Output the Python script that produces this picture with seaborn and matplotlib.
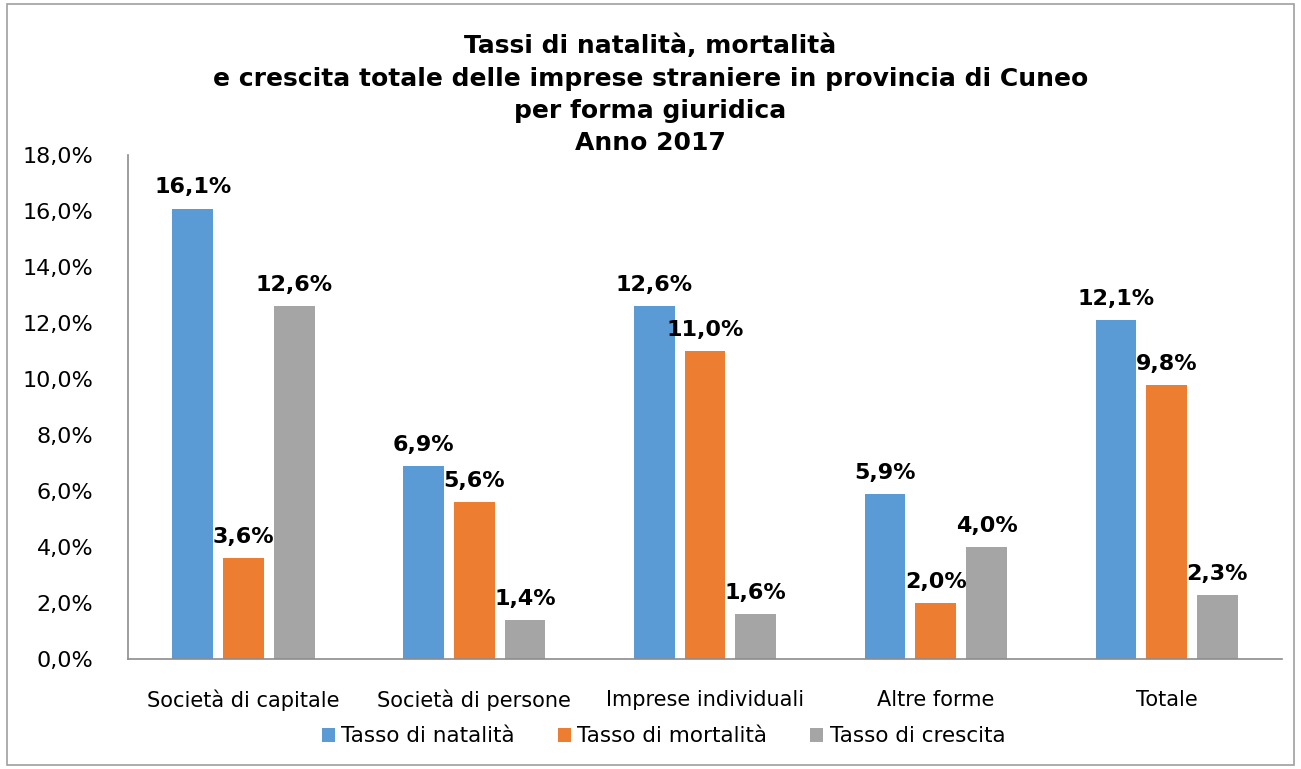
import matplotlib
matplotlib.use("Agg")
import matplotlib.pyplot as plt
import seaborn as sns
import pandas as pd
from matplotlib.patches import Rectangle

categories = ["Società di capitale", "Società di persone", "Imprese individuali", "Altre forme", "Totale"]
natalita = [16.1, 6.9, 12.6, 5.9, 12.1]
mortalita = [3.6, 5.6, 11.0, 2.0, 9.8]
crescita = [12.6, 1.4, 1.6, 4.0, 2.3]
series_names = ["Tasso di natalità", "Tasso di mortalità", "Tasso di crescita"]
colors = ["#5B9BD5", "#ED7D31", "#A5A5A5"]
yticks = [0, 2, 4, 6, 8, 10, 12, 14, 16, 18]

rows = []
for name, vals in zip(series_names, [natalita, mortalita, crescita]):
    for c, v in zip(categories, vals):
        rows.append({"Categoria": c, "Serie": name, "Valore": v})
df = pd.DataFrame(rows)

sns.set_theme(style="white")
plt.rcParams["font.family"] = ["DejaVu Sans"]
plt.rcParams["text.color"] = "black"
plt.rcParams["xtick.color"] = "black"
plt.rcParams["ytick.color"] = "black"

fig = plt.figure(figsize=(13.01, 7.69), dpi=100)
ax = fig.add_axes([0.0984, 0.143, 0.887, 0.655])

sns.barplot(data=df, x="Categoria", y="Valore", hue="Serie", order=categories,
            hue_order=series_names, palette=colors, width=0.66, gap=0.2,
            saturation=1, ax=ax, errorbar=None, linewidth=0)

for cont in ax.containers:
    ax.bar_label(cont, labels=[f"{b.get_height():.1f}".replace(".", ",") + "%" for b in cont],
                 padding=8, fontsize=16, fontweight="bold", color="black")

ax.set_ylim(0, 18)
ax.set_yticks(yticks)
ax.set_yticklabels([f"{t:.1f}".replace(".", ",") + "%" for t in yticks], fontsize=16)
ax.tick_params(axis="x", labelsize=15, length=0, pad=22, colors="black")
ax.tick_params(axis="y", length=0, pad=25, colors="black")
ax.set_xlabel("")
ax.set_ylabel("")
for s in ["top", "right"]:
    ax.spines[s].set_visible(False)
for s in ["left", "bottom"]:
    ax.spines[s].set_color("#8C8C8C")
    ax.spines[s].set_linewidth(1.2)
ax.set_xlim(-0.5, 4.5)

leg = ax.legend(loc="upper center", bbox_to_anchor=(0.464, -0.095), ncol=3, frameon=False,
                fontsize=15.5, handlelength=0.6, handleheight=0.6, handletextpad=0.3,
                columnspacing=2.0)
for t in leg.get_texts():
    t.set_color("black")

fig.text(0.5, 0.956, "Tassi di natalità, mortalità\ne crescita totale delle imprese straniere in provincia di Cuneo\nper forma giuridica\nAnno 2017",
         ha="center", va="top", fontsize=18, fontweight="bold", linespacing=1.44, color="black")

fig.patches.append(Rectangle((0.005, 0.005), 0.99, 0.99, transform=fig.transFigure,
                             fill=False, edgecolor="#A0A0A0", linewidth=1.2))

fig.savefig("out.png", dpi=100)
